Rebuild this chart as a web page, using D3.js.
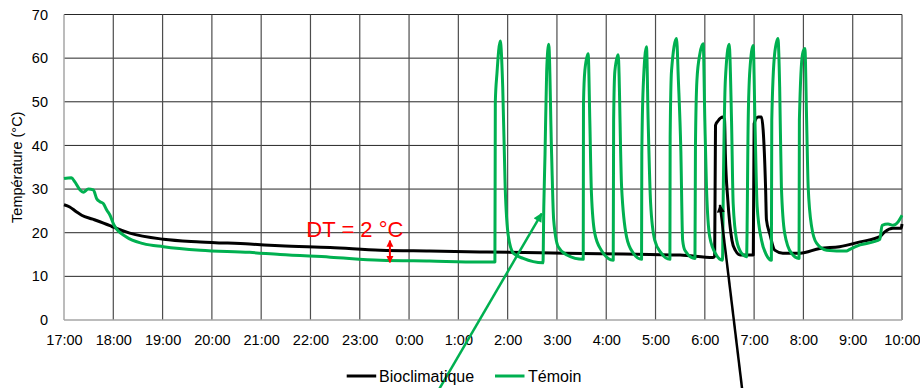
<!DOCTYPE html>
<html><head><meta charset="utf-8">
<script src="https://cdn.jsdelivr.net/npm/d3@7"></script>
<style>
body{margin:0;background:#fff}
svg{display:block}
text{font-family:"Liberation Sans",Arial,sans-serif}
</style>
</head><body>
<svg id="chart" width="920" height="388"></svg>
<script>
// ---- data (time = minutes after 17:00) ----
const xTickLabels = ["17:00","18:00","19:00","20:00","21:00","22:00","23:00","0:00","1:00","2:00","3:00","4:00","5:00","6:00","7:00","8:00","9:00","10:00"];
const yTicks = [0,10,20,30,40,50,60,70];
const seriesNames = ["Bioclimatique","Témoin"];
const seriesColors = ["#000000","#00B050"];

const bioMinutes = [0,7,15,21.5,35,56,61,80,121,166,226,263,324,385,445,506,579,652,713,750,790,792,793,796,802,804,805,808,813,817,823,839,840,845,849,851,854,855,859,865,875,896,920,944,969,993,999,1009,1019,1020];
const bioValues  = [26.4,25.9,24.8,24.0,23.1,21.6,21.2,19.9,18.5,17.9,17.4,17.0,16.6,16.0,15.8,15.6,15.4,15.2,15.0,14.9,14.3,14.6,44.6,45.6,46.5,46.0,38,27.5,18.3,16.0,14.9,14.9,45.0,46.5,46.5,43.5,30,23,19.8,16.0,15.3,15.3,16.4,16.8,17.9,19.1,20.2,21.0,21.0,22.0];

const temMinutes = [0,9,13,19.5,23.5,29.6,35.7,39.8,43.8,47.8,52,56,61,76,96.5,121,166,226,263,324,385,445,506,524.5,525,527,531,534,537,541,547,559,583,584,585.5,587.5,590,593.5,596,601.5,612,632,632.3,634,638,640,642,646,654,668.5,669,670.5,674.5,678.7,684.8,693,703,703.3,705,709,711,714,719,727,737.5,737.8,739.5,745.6,747.8,750.8,753,755.7,768,768.6,770.4,774,778,780,782,786,794,801.5,802.5,805,809.6,812.5,814.5,818.7,824.7,830.8,832.8,834.8,838.9,841,843.7,849,855,861,861.5,865,869,871.1,873.2,877.2,885.4,894.7,895.1,899,901.8,903.9,905.8,910,916,928.2,952.5,956.5,969,985,993,995.8,1003,1009,1015.3,1019.4,1020];
const temValues  = [32.4,32.6,31.7,29.8,29.3,30.0,29.8,27.8,27.1,26.7,25.2,24.0,21.7,19.0,17.5,16.8,16.0,15.5,15.0,14.4,13.7,13.5,13.3,13.3,50,56.5,63.9,53.4,30.5,19,15.3,14.1,13.1,26,38,57,63.2,38,23,16.8,14.9,13.9,49.6,57.2,61,45.8,29,19.9,16,13.7,45.8,57,60.8,30.5,19,15.3,13.9,38,53.4,62.6,45.8,26.8,18.3,15.3,13.9,42,57.2,64.5,55,38.9,18.3,16,14.1,40,55,61,63.3,45.8,30.5,19,14.9,13.7,30,55,63.2,45.8,26.7,18.3,15.3,14.5,45.8,57.2,62.9,45.8,26,18.3,14.9,13.7,45.8,61,64.5,53.4,30.5,19.9,15.3,14.1,45.8,61,62.2,45.8,30.5,21.4,17.6,16.0,15.8,16.2,17.2,17.9,18.5,21.7,22.0,21.7,22.5,23.8,24.0];

// annotations (data coordinates: minutes, °C)
const dtLabel = "DT = 2 °C";
const dtLabelPos = [295, 19.0];
const dtArrow = [[396.7, 18.2],[396.7, 13.2]];
const greenArrow = [[449, -18.3],[581.4, 24.4]];
const blackArrow = [[827, -18.3],[798.4, 26.35]];
const yTitle = "Température (°C)";

// ---- layout ----
const W = 920, H = 388;
const m = {left:64, right:18, top:14.5, bottom:68};
const svg = d3.select("#chart");
const x = d3.scaleLinear().domain([0,1020]).range([m.left, W - m.right]);
const y = d3.scaleLinear().domain([0,70]).range([H - m.bottom, m.top]);

// horizontal gridlines
svg.append("g")
  .selectAll("line").data(yTicks.filter(d=>d>0)).join("line")
  .attr("x1", x(0)).attr("x2", x(1020))
  .attr("y1", d=>y(d)).attr("y2", d=>y(d))
  .attr("stroke","#262626").attr("stroke-width",1);

// vertical gridlines
const hourTicks = xTickLabels.map((_,i)=>i*60);
svg.append("g")
  .selectAll("line").data(hourTicks.filter(d=>d>0)).join("line")
  .attr("x1", d=>x(d)).attr("x2", d=>x(d))
  .attr("y1", y(0)).attr("y2", y(70))
  .attr("stroke","#4d4d4d").attr("stroke-width",1.2);

// axes lines (light gray)
svg.append("line").attr("x1",x(0)).attr("x2",x(0)).attr("y1",y(0)).attr("y2",y(70))
  .attr("stroke","#a6a6a6").attr("stroke-width",1.5);
svg.append("line").attr("x1",x(0)).attr("x2",x(1020)).attr("y1",y(0)).attr("y2",y(0))
  .attr("stroke","#a6a6a6").attr("stroke-width",1.5);

// y axis labels
const yAxis = d3.axisLeft(y).tickValues(yTicks).tickSize(0).tickPadding(16);
const gy = svg.append("g").attr("transform",`translate(${x(0)},0)`).call(yAxis);
gy.select(".domain").remove();
gy.selectAll("text").attr("font-size",14.5).attr("fill","#000").attr("font-family","Liberation Sans, Arial, sans-serif");

// x axis labels
const xAxis = d3.axisBottom(x).tickValues(hourTicks).tickFormat((d,i)=>xTickLabels[i]).tickSize(0).tickPadding(15);
const gx = svg.append("g").attr("transform",`translate(0,${y(0)})`).call(xAxis);
gx.select(".domain").remove();
gx.selectAll("text").attr("font-size",14.5).attr("fill","#000").attr("font-family","Liberation Sans, Arial, sans-serif");

// y title
svg.append("text")
  .attr("transform",`translate(22,${(y(0)+y(70))/2}) rotate(-90)`)
  .attr("text-anchor","middle").attr("font-size",14.5).attr("fill","#000")
  .text(yTitle);

// lines
const line = d3.line().curve(d3.curveMonotoneX).x(d=>x(d[0])).y(d=>y(d[1]));
const bio = bioMinutes.map((t,i)=>[t,bioValues[i]]);
const tem = temMinutes.map((t,i)=>[t,temValues[i]]);
svg.append("path").datum(bio).attr("d",line).attr("fill","none")
  .attr("stroke",seriesColors[0]).attr("stroke-width",3).attr("stroke-linejoin","round");
svg.append("path").datum(tem).attr("d",line).attr("fill","none")
  .attr("stroke",seriesColors[1]).attr("stroke-width",3).attr("stroke-linejoin","round");

// arrow markers
const defs = svg.append("defs");
function marker(id,color,w,h){
  defs.append("marker").attr("id",id).attr("viewBox","0 0 10 10")
    .attr("refX",9).attr("refY",5).attr("markerWidth",w).attr("markerHeight",h)
    .attr("markerUnits","userSpaceOnUse").attr("orient","auto-start-reverse")
    .append("path").attr("d","M0,0L10,5L0,10Z").attr("fill",color);
}
marker("ag","#00B050",10,9);
marker("ab","#000000",10,8);
marker("ar","#FF0000",7,9);

svg.append("line")
  .attr("x1",x(greenArrow[0][0])).attr("y1",y(greenArrow[0][1]))
  .attr("x2",x(greenArrow[1][0])).attr("y2",y(greenArrow[1][1]))
  .attr("stroke","#00B050").attr("stroke-width",2.5).attr("marker-end","url(#ag)");
svg.append("line")
  .attr("x1",x(blackArrow[0][0])).attr("y1",y(blackArrow[0][1]))
  .attr("x2",x(blackArrow[1][0])).attr("y2",y(blackArrow[1][1]))
  .attr("stroke","#000").attr("stroke-width",2.5).attr("marker-end","url(#ab)");
svg.append("line")
  .attr("x1",x(dtArrow[0][0])).attr("y1",y(dtArrow[0][1]))
  .attr("x2",x(dtArrow[1][0])).attr("y2",y(dtArrow[1][1]))
  .attr("stroke","#FF0000").attr("stroke-width",2)
  .attr("marker-start","url(#ar)").attr("marker-end","url(#ar)");

svg.append("text").attr("x",x(dtLabelPos[0])).attr("y",y(dtLabelPos[1]))
  .attr("font-size",22).attr("fill","#FF0000").text(dtLabel);

// legend
const legend = [{x0:346.7,tx:379},{x0:495,tx:528}];
const lg = svg.append("g");
seriesNames.forEach((n,i)=>{
  lg.append("line").attr("x1",legend[i].x0).attr("x2",legend[i].x0+29.5)
    .attr("y1",376).attr("y2",376).attr("stroke",seriesColors[i]).attr("stroke-width",3);
  lg.append("text").attr("x",legend[i].tx).attr("y",381.5)
    .attr("font-size",16).attr("fill","#000").text(n);
});
</script>
</body></html>
